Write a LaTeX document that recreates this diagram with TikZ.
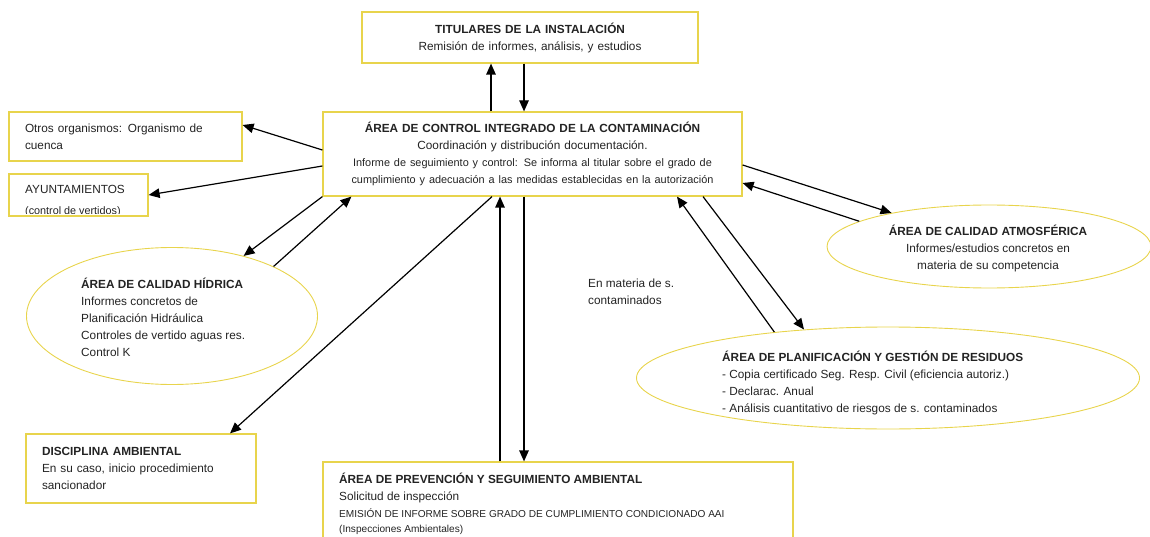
\documentclass[tikz,border=0pt]{standalone}
\usepackage{fontspec}
\setmainfont{Liberation Sans}
\usetikzlibrary{arrows.meta,shapes.geometric}
\definecolor{boxy}{RGB}{232,212,76}
\definecolor{txt}{RGB}{35,35,35}
\begin{document}
\begin{tikzpicture}[x=1pt,y=-1pt,
  box/.style={draw=boxy, line width=1.2pt, inner sep=0pt, text=txt},
  oval/.style={ellipse, draw=boxy, line width=0.9pt, inner sep=0pt},
  arr/.style={-{Triangle[length=11pt,width=9.5pt]}, line width=1.2pt},
  fn/.style={font=\fontsize{11.8}{17}\selectfont},
  lbl/.style={fn, text=txt, inner sep=0pt},
]
\clip (0,0) rectangle (1150,537);

% boxes
\node[box, fn, minimum width=336pt, minimum height=51pt, text width=336pt, align=center] (tit) at (530,37.5)
  {\textbf{TITULARES DE LA INSTALACIÓN}\\Remisión de informes, análisis, y estudios};

\node[box, fn, minimum width=419pt, minimum height=84pt, text width=419pt, align=center] (acic) at (532.5,154)
  {\textbf{ÁREA DE CONTROL INTEGRADO DE LA CONTAMINACIÓN}\\Coordinación y distribución documentación.\par
   \fontsize{10.9}{16.5}\selectfont Informe de seguimiento y control: Se informa al titular sobre el grado de\\cumplimiento y adecuación a las medidas establecidas en la autorización};

\node[box, fn, minimum width=233pt, minimum height=49pt, text width=201pt, align=left] (otros) at (125.5,136.5)
  {Otros organismos: Organismo de\\cuenca};

\begin{scope}
  \clip (9,174) rectangle (148,214);
  \node[lbl, anchor=north west, align=left] (ayutxt) at (25,185)
    {AYUNTAMIENTOS\\[4pt]{\fontsize{10.8}{12}\selectfont (control de vertidos)}};
\end{scope}
\node[box, minimum width=139pt, minimum height=42pt] (ayu) at (78.5,195) {};

\node[box, fn, minimum width=230pt, minimum height=69pt, text width=198pt, align=left] (disc) at (141,468.5)
  {\textbf{DISCIPLINA AMBIENTAL}\\En su caso, inicio procedimiento\\sancionador};

\node[box, minimum width=470pt, minimum height=140pt] (prev) at (558,532) {};
\node[lbl, anchor=north west, align=left] (prevtxt) at (339,472.5)
  {\textbf{ÁREA DE PREVENCIÓN Y SEGUIMIENTO AMBIENTAL}\\Solicitud de inspección\\
   {\fontsize{10.1}{13}\selectfont EMISIÓN DE INFORME SOBRE GRADO DE CUMPLIMIENTO CONDICIONADO AAI}\\[-2pt]
   {\fontsize{10.1}{13}\selectfont (Inspecciones Ambientales)}};

% ellipses
\node[oval, minimum width=291pt, minimum height=137pt] (hid) at (172,316) {};
\node[lbl, anchor=west, align=left] (hidtxt) at (81,317.5)
  {\textbf{ÁREA DE CALIDAD HÍDRICA}\\Informes concretos de\\Planificación Hidráulica\\Controles de vertido aguas res.\\Control K};

\node[oval, minimum width=324pt, minimum height=83pt] (atm) at (989,246.5) {};
\node[lbl, align=center] (atmtxt) at (988,248.5)
  {\textbf{ÁREA DE CALIDAD ATMOSFÉRICA}\\Informes/estudios concretos en\\materia de su competencia};

\node[oval, minimum width=503pt, minimum height=102pt] (res) at (888,378) {};
\node[lbl, anchor=west, align=left] (restxt) at (722,382.5)
  {\textbf{ÁREA DE PLANIFICACIÓN Y GESTIÓN DE RESIDUOS}\\- Copia certificado Seg. Resp. Civil (eficiencia autoriz.)\\- Declarac. Anual\\- Análisis cuantitativo de riesgos de s. contaminados};

\node[lbl, anchor=west, align=left] (mat) at (588,291.5) {En materia de s.\\contaminados};

% connectors
\draw[arr] ([xshift=-39pt]tit.south |- acic.north) -- ([xshift=-39pt]tit.south);
\draw[arr] ([xshift=-6pt]tit.south) -- ([xshift=-6pt]tit.south |- acic.north);
\draw[arr] ([yshift=4pt]acic.west) -- ([yshift=11.5pt]otros.east);
\draw[arr] ([yshift=-12pt]acic.west) -- (ayu.east);
\draw[arr] (acic.south west) -- (hid.40.7);
\draw[arr] (hid.26.3) -- ([xshift=29pt]acic.south west);
\draw[arr] ([xshift=-40.5pt]acic.south) -- ([xshift=89pt]disc.north);
\draw[arr] ([xshift=-32.5pt]acic.south |- prev.north) -- ([xshift=-32.5pt]acic.south);
\draw[arr] ([xshift=-8.5pt]acic.south) -- ([xshift=-8.5pt]acic.south |- prev.north);
\draw[arr] ([yshift=-11pt]acic.east) -- (atm.161.8);
\draw[arr] (atm.169.7) -- ([yshift=-29pt]acic.east);
\draw[arr] ([xshift=170.5pt]acic.south) -- (res.150.8);
\draw[arr] (res.158.4) -- ([xshift=144.5pt]acic.south);
\end{tikzpicture}
\end{document}
